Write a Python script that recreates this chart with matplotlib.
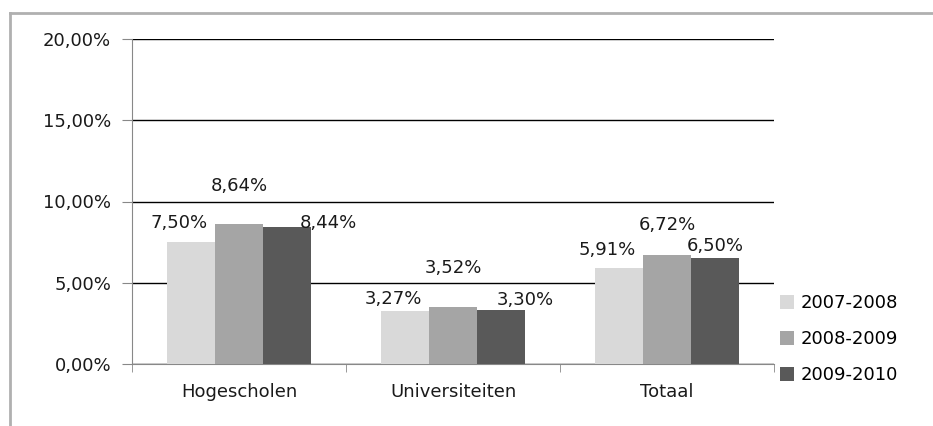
import matplotlib
matplotlib.use("Agg")
import matplotlib.pyplot as plt
import numpy as np
from matplotlib.lines import Line2D

categories = ["Hogescholen", "Universiteiten", "Totaal"]
series_names = ["2007-2008", "2008-2009", "2009-2010"]
values_0708 = [7.50, 3.27, 5.91]
values_0809 = [8.64, 3.52, 6.72]
values_0910 = [8.44, 3.30, 6.50]
yticks = [0, 5, 10, 15, 20]

colors = ["#d9d9d9", "#a5a5a5", "#595959"]
# label offsets in pixels (dx, dy above bar top) per series/category
label_offsets = [
    [(-12, 19), (-12, 12), (-12, 18)],
    [(0, 38), (0, 39), (0, 30)],
    [(41, 4), (24, 10), (0, 12)],
]

plt.rcParams['font.family'] = ['DejaVu Sans']
fig = plt.figure(figsize=(9.33, 4.26), dpi=100)
ax = fig.add_axes([132/933, 1-364/426, (774-132)/933, (364-39)/426])

x = np.arange(len(categories))
w = 0.224
all_series = [values_0708, values_0809, values_0910]
for i, (vals, col, name) in enumerate(zip(all_series, colors, series_names)):
    xs = x + (i-1)*w
    ax.bar(xs, vals, width=w, color=col, label=name, zorder=3, edgecolor='none')
    for j, (xx, v) in enumerate(zip(xs, vals)):
        dx, dy = label_offsets[i][j]
        ax.annotate(f"{v:.2f}%".replace('.', ','), (xx, v), xytext=(dx*0.72, dy*0.72),
                    textcoords='offset points', ha='center', va='center', fontsize=13,
                    color='#1a1a1a', zorder=5)

ax.set_xlim(-0.5, 2.5)
ax.set_ylim(0, 20)
ax.set_yticks(yticks)
ax.set_yticklabels([f"{t:.2f}%".replace('.', ',') for t in yticks], fontsize=13, color='#1a1a1a')
ax.yaxis.grid(True, color='black', linewidth=1.0, zorder=1)
ax.set_axisbelow(True)
ax.set_xticks(x)
ax.set_xticklabels(categories, fontsize=13, color='#1a1a1a')
ax.tick_params(axis='x', length=0, pad=14)
ax.set_xticks([-0.5, 0.5, 1.5, 2.5], minor=True)
ax.tick_params(axis='x', which='minor', length=6, color='#888888', direction='out')
ax.tick_params(axis='y', length=7, color='#888888', pad=8)
for s in ['top', 'right']:
    ax.spines[s].set_visible(False)
ax.spines['left'].set_color('#888888')
ax.spines['bottom'].set_color('#888888')

leg = ax.legend(loc='upper left', bbox_to_anchor=(0.998, 0.238), frameon=False, fontsize=13,
                handlelength=0.8, handleheight=0.8, handletextpad=0.35, labelspacing=1.0,
                borderaxespad=0)

# outer gray frame
fig.add_artist(Line2D([10/933, 10/933], [0, 1-13/426], transform=fig.transFigure, color='#b0b0b0', lw=2))
fig.add_artist(Line2D([10/933, 1], [1-13/426, 1-13/426], transform=fig.transFigure, color='#b0b0b0', lw=2))

fig.savefig("out.png", dpi=100)
